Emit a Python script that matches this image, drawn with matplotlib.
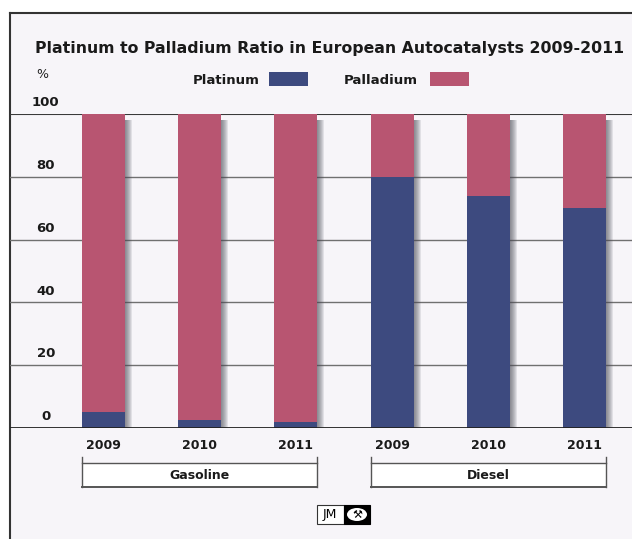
import matplotlib.pyplot as plt
from matplotlib.patches import Rectangle, Ellipse

# data
groups = ["Gasoline", "Diesel"]
years = ["2009", "2010", "2011"]
platinum = [5, 2.5, 2, 80, 74, 70]          # % platinum
palladium = [100 - p for p in platinum]     # remainder is palladium
yticks = [0, 20, 40, 60, 80, 100]

BLUE = "#3d4a7f"
PINK = "#b85571"
BG = "#f7f5f9"
W, H = 632, 539

fig = plt.figure(figsize=(W / 100, H / 100), dpi=100)
fig.patch.set_facecolor("white")

# pixel-space canvas for the frame and decorations
bg = fig.add_axes([0, 0, 1, 1])
bg.set_xlim(0, W)
bg.set_ylim(H, 0)
bg.axis("off")
bg.add_patch(Rectangle((10, 13), W, H, facecolor=BG, edgecolor="none"))
bg.plot([10, 10], [13, H], color="#333333", lw=1.5)
bg.plot([10, W], [13, 13], color="#333333", lw=1.5)

bg.text(330, 48, "Platinum to Palladium Ratio in European Autocatalysts 2009-2011",
        ha="center", va="center", fontsize=11.3, fontweight="bold", color="#1a1a1a")
bg.text(42, 75, "%", ha="center", va="center", fontsize=9, color="#222222")

# legend
bg.text(226, 81, "Platinum", ha="center", va="center", fontsize=9.5,
        fontweight="bold", color="#1a1a1a")
bg.add_patch(Rectangle((269, 72), 39, 14, facecolor=BLUE, edgecolor="none"))
bg.text(381, 81, "Palladium", ha="center", va="center", fontsize=9.5,
        fontweight="bold", color="#1a1a1a")
bg.add_patch(Rectangle((430, 72), 39, 14, facecolor=PINK, edgecolor="none"))

# JM logo
bg.add_patch(Rectangle((316.5, 505), 27, 19, facecolor="white", edgecolor="#333333", lw=0.8))
bg.add_patch(Rectangle((343.5, 505), 26.5, 19, facecolor="black", edgecolor="black", lw=0.8))
bg.text(330, 514.5, "JM", ha="center", va="center", fontsize=9, color="black")
bg.add_patch(Ellipse((357, 514.5), 20, 13, facecolor="white", edgecolor="none"))
bg.text(357, 515, "\u2692", ha="center", va="center", fontsize=8, color="black")

# data axes: 0 at y=428 px, 100 at y=114 px
ax = fig.add_axes([10 / W, (H - 428) / H, (W - 10) / W, 314 / H])
ax.patch.set_alpha(0)
for s in ax.spines.values():
    s.set_visible(False)
ax.set_xticks([])
ax.set_yticks([])

x = list(range(len(platinum)))
bw = 0.447
px = bw / 43  # one pixel in x data units
ax.set_xlim(-0.972, 5.494)
ax.set_ylim(0, 100)

for v in yticks[1:]:
    if v == 100:
        ax.axhline(v, color="#3a3a3a", lw=1.5, zorder=1)
    else:
        ax.axhline(v, color="#707070", lw=1.0, zorder=1)
for v in yticks:
    ax.text(-0.6, v + 1.5, str(v), ha="center", va="bottom", fontsize=9.5,
            fontweight="bold", color="#1a1a1a")

# soft shadows to the right of each bar
for k in range(1, 8):
    ax.bar([xi - bw / 2 for xi in x], [100.0] * len(x), bw + k * px, bottom=-2.0,
           align="edge", color="#4a4a55", alpha=0.12, zorder=2, linewidth=0)

ax.bar(x, platinum, bw, color=BLUE, zorder=3, linewidth=0, label="Platinum")
ax.bar(x, palladium, bw, bottom=platinum, color=PINK, zorder=3, linewidth=0,
       label="Palladium")
ax.axhline(0, color="#222222", lw=1.3, zorder=4)

# year labels and group brackets
tr = ax.get_xaxis_transform()
for xi, lab in zip(x, years * len(groups)):
    ax.text(xi, -0.057, lab, transform=tr, ha="center", va="center",
            fontsize=9, fontweight="bold", color="#1a1a1a", clip_on=False)

n = len(years)
for g, name in enumerate(groups):
    x0 = g * n - bw / 2
    x1 = g * n + n - 1 + bw / 2
    ax.add_patch(Rectangle((x0, -0.188), x1 - x0, 0.077, transform=tr,
                           facecolor="white", edgecolor="none", clip_on=False))
    ax.plot([x0, x1], [-0.111, -0.111], transform=tr, color="#555555", lw=1.0, clip_on=False)
    ax.plot([x0, x1], [-0.188, -0.188], transform=tr, color="#555555", lw=1.4, clip_on=False)
    for xe in (x0, x1):
        ax.plot([xe, xe], [-0.092, -0.188], transform=tr, color="#555555", lw=1.0,
                clip_on=False)
    ax.text((x0 + x1) / 2, -0.150, name, transform=tr, ha="center", va="center",
            fontsize=9, fontweight="bold", color="#1a1a1a", clip_on=False)

fig.savefig("out.png", dpi=100, facecolor=fig.get_facecolor())
